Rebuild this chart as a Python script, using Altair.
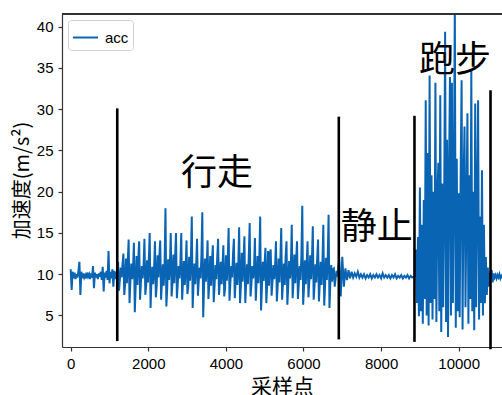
import altair as alt
import pandas as pd

# ---------------- data ----------------
# quiet segment before walking, samples 0..1175 step 25
pre_start, pre_step = 0, 25
pre_vals = [10.6, 8.1, 10.3, 9.5, 10.2, 9.4, 10.0, 9.6, 10.4, 11.5, 7.5, 10.3,
            9.5, 10.1, 9.6, 9.9, 9.5, 10.2, 9.7, 10.0, 9.4, 10.1, 9.6, 11.0,
            8.3, 10.2, 9.6, 10.0, 9.4, 10.1, 9.7, 10.3, 9.3, 10.9, 7.9, 10.2,
            9.6, 10.4, 9.3, 12.8, 8.9, 10.3, 9.5, 10.6, 8.5, 10.4, 9.4, 10.1]

# walking segment: one step cycle = [mid_a, peak, trough, mid_b, mid_c, mid_d]
walk_start, walk_step = 1200, 22.6
walk_mid_a = [10.4, 11.2, 11.6, 10.8, 12.0, 11.0, 11.8, 10.6, 12.2, 11.4, 10.9, 12.1,
              11.3, 10.7, 11.9, 11.1, 12.3, 10.8, 11.5, 12.0, 10.9, 11.7, 12.4, 11.0,
              11.6, 12.2, 10.8, 11.9, 11.2, 12.5, 11.0, 11.8, 12.1, 10.9, 11.6, 12.3,
              11.1, 11.7, 12.0, 11.4, 11.9, 10.6]
walk_peak = [11.5, 12.5, 14.2, 13.8, 14.0, 14.3, 15.0, 14.0, 14.1, 18.0, 15.0, 15.0,
             15.0, 14.1, 17.0, 14.3, 17.5, 14.1, 13.5, 14.3, 13.5, 15.6, 14.3, 15.7,
             14.6, 16.2, 14.4, 17.0, 13.2, 13.0, 14.0, 15.6, 14.0, 16.0, 14.0, 18.3,
             14.0, 15.8, 14.2, 16.0, 17.2, 10.7]
walk_trough = [8.0, 7.5, 6.5, 5.4, 6.9, 7.5, 5.9, 7.2, 6.9, 6.1, 7.3, 7.1,
               6.9, 7.6, 5.9, 7.4, 4.8, 7.0, 6.6, 7.5, 7.3, 6.8, 7.1, 6.5,
               6.5, 7.3, 6.8, 5.6, 6.5, 7.4, 6.7, 6.9, 6.3, 7.1, 7.0, 6.3,
               7.2, 6.9, 6.7, 6.2, 5.9, 8.5]
walk_mid_b = [9.4, 8.8, 9.2, 8.5, 9.0, 8.7, 9.3, 8.6, 9.1, 8.4, 9.0, 8.8,
              9.2, 8.5, 8.9, 9.3, 8.6, 9.0, 8.7, 9.1, 8.4, 8.9, 9.2, 8.6,
              9.0, 8.8, 9.3, 8.5, 8.9, 9.1, 8.7, 9.0, 8.6, 9.2, 8.8, 8.5,
              9.1, 8.7, 9.0, 8.6, 8.9, 9.5]
walk_mid_c = [10.8, 11.9, 11.3, 12.2, 11.0, 11.7, 10.9, 12.3, 11.2, 11.8, 12.4, 11.0,
              11.6, 12.1, 11.3, 10.8, 11.9, 12.2, 11.1, 11.5, 12.3, 11.0, 11.4, 12.6,
              11.2, 11.0, 12.2, 11.5, 12.8, 11.1, 11.9, 11.3, 11.6, 12.4, 11.0, 11.7,
              12.3, 11.2, 11.5, 12.0, 11.1, 10.4]
walk_mid_d = [9.6, 8.9, 9.4, 8.7, 9.5, 9.0, 8.8, 9.6, 8.6, 9.3, 8.9, 9.5,
              8.7, 9.2, 8.8, 9.5, 9.1, 8.6, 9.4, 8.8, 9.2, 9.6, 8.7, 9.1,
              8.8, 9.5, 8.9, 9.2, 8.6, 9.4, 9.0, 8.7, 9.5, 8.9, 9.3, 8.8,
              9.4, 9.0, 8.7, 9.3, 9.1, 9.7]

# standing still segment, samples 6920.. step 40
still_start, still_step = 6920, 40
still_vals = [11.9, 7.3, 12.1, 8.5, 10.7, 9.3, 10.5, 9.5, 10.3, 9.6, 10.1, 9.7,
              10.3, 9.6, 10.0, 9.6, 10.0, 9.5, 9.9, 9.6, 10.0, 9.5, 9.9, 9.6,
              10.0, 9.6, 9.9, 9.5, 10.1, 9.6, 9.9, 9.6, 9.9, 9.5, 9.9, 9.6,
              10.0, 9.5, 9.8, 9.6, 9.9, 9.5, 9.8, 9.6, 9.9, 9.5, 9.8, 9.6, 9.7]

# running segment, samples 8875.. step 25
run_start, run_step = 8875, 25
run_vals = [9.8, 13.0, 6.5, 14.5, 4.9, 20.5, 5.5, 16.0, 4.0, 19.0, 7.0, 31.1,
            5.0, 24.7, 3.8, 34.1, 6.5, 22.0, 4.5, 20.0, 7.0, 33.2, 4.2, 19.0,
            23.5, 5.5, 31.7, 3.0, 21.0, 6.0, 18.0, 39.4, 4.2, 26.3, 2.4, 22.0,
            33.9, 5.0, 33.2, 6.5, 20.0, 43.0, 3.5, 24.0, 5.5, 19.8, 4.8, 22.0,
            33.5, 3.3, 21.0, 27.9, 6.0, 18.0, 29.5, 4.0, 22.0, 7.0, 34.8, 5.5,
            20.0, 3.2, 30.7, 6.0, 19.0, 31.1, 4.5, 17.0, 6.5, 22.6, 5.0, 16.0,
            6.5, 12.1, 7.5, 10.8, 8.5, 10.2]

# quiet segment after running, samples 10825.. step 25
post_start, post_step = 10825, 25
post_vals = [9.4, 10.5, 9.0, 10.1, 9.6, 9.9, 9.5, 9.9, 9.6, 10.0, 9.5, 9.8,
             9.6, 9.9, 9.5, 9.8]

# segment boundary markers
rule_x = [1200, 6910, 8860, 10820]
rule_y1 = [1.9, 2.1, 1.8, 0.9]
rule_y2 = [30.1, 29.1, 29.2, 32.3]

# annotations
ann_text = ["行走", "静止", "跑步"]
ann_x = [3770, 7890, 9905]
ann_y = [22.2, 15.6, 35.8]

x_ticks = [0, 2000, 4000, 6000, 8000, 10000]
y_ticks = [5, 10, 15, 20, 25, 30, 35, 40]

# ---------------- build table ----------------
xs, ys = [], []
for i, v in enumerate(pre_vals):
    xs.append(pre_start + i * pre_step); ys.append(v)
k = 0
for cyc in zip(walk_mid_a, walk_peak, walk_trough, walk_mid_b, walk_mid_c, walk_mid_d):
    for j, v in enumerate(cyc):
        xs.append(walk_start + (6 * k + j) * walk_step); ys.append(v)
    k += 1
for i, v in enumerate(still_vals):
    xs.append(still_start + i * still_step); ys.append(v)
for i, v in enumerate(run_vals):
    xs.append(run_start + i * run_step); ys.append(v)
for i, v in enumerate(post_vals):
    xs.append(post_start + i * post_step); ys.append(v)

sig = pd.DataFrame({"x": xs, "acc": ys, "series": "acc"})
rules = pd.DataFrame({"x": rule_x, "y1": rule_y1, "y2": rule_y2})
ann = pd.DataFrame({"t": ann_text, "x": ann_x, "y": ann_y})

BLUE = "#0a64b4"
W, H = 440, 333
xscale = alt.Scale(domain=[-224, 11116], nice=False, zero=False)
yscale = alt.Scale(domain=[1.18, 41.54], nice=False, zero=False)

line = alt.Chart(sig).mark_line(strokeWidth=2, clip=True).encode(
    x=alt.X("x:Q", scale=xscale,
            axis=alt.Axis(values=x_ticks, title="采样点", format="d",
                          titleFontSize=21, titleY=29, titleBaseline="top",
                          titleFont="Noto Sans CJK SC", titleFontWeight="normal")),
    y=alt.Y("acc:Q", scale=yscale,
            axis=alt.Axis(values=y_ticks, title="加速度(m/s²)",
                          titleFontSize=20, titleFont="Noto Sans CJK SC",
                          titleFontWeight="normal", titleX=-40, titleY=166,
                          titleAngle=-90, titleAlign="center",
                          titleBaseline="middle")),
    color=alt.Color("series:N",
                    scale=alt.Scale(domain=["acc"], range=[BLUE]),
                    legend=alt.Legend(title=None, orient="none", legendX=6, legendY=6,
                                      symbolType="stroke", symbolSize=625,
                                      symbolStrokeWidth=2, labelFontSize=15,
                                      labelFont="Liberation Sans", labelOffset=6,
                                      padding=4, fillColor="white",
                                      strokeColor="#d0d0d0", cornerRadius=3)),
)

rule_layer = alt.Chart(rules).mark_rule(color="black", strokeWidth=2.6).encode(
    x="x:Q", y="y1:Q", y2="y2:Q")

text_layer = alt.Chart(ann).mark_text(
    font="Noto Sans CJK SC", fontSize=36, color="black",
    align="center", baseline="middle").encode(
    x="x:Q", y="y:Q", text="t:N")

top_spine = alt.Chart(sig).mark_rule(color="#333333", strokeWidth=1.2).encode(
    x=alt.value(0), x2=alt.value(W), y=alt.value(0))

chart = alt.layer(line, rule_layer, text_layer, top_spine).properties(
    width=W, height=H,
    autosize=alt.AutoSizeParams(type="none"),
    padding={"left": 62, "top": 14, "right": 0, "bottom": 48},
).configure_view(strokeWidth=0).configure_axis(
    grid=False, domainColor="#333333", domainWidth=1.2, tickColor="#333333",
    tickWidth=1.2, tickSize=4, labelPadding=5, labelColor="black",
    labelFont="Liberation Sans", labelFontSize=15, titleColor="black",
)

chart.save("out.html", embed_options={"renderer": "svg", "actions": False})
